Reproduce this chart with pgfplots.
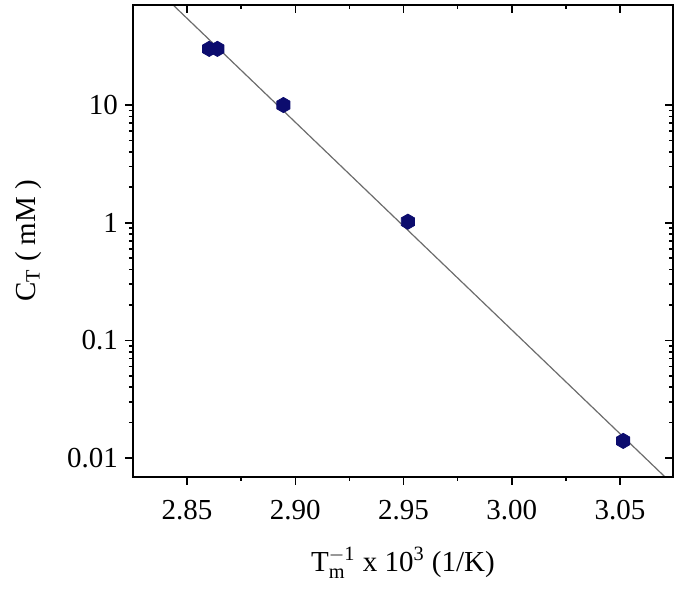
\documentclass[border=0pt]{standalone}
\usepackage{pgfplots}
\pgfplotsset{compat=1.18}
\usepackage{fontspec}
\setmainfont{Liberation Serif}
\definecolor{navy}{RGB}{12,12,110}

% hexagon with a vertex on top
\pgfdeclareplotmark{hexagon}{%
  \pgfpathmoveto{\pgfqpointpolar{90}{\pgfplotmarksize}}%
  \pgfpathlineto{\pgfqpointpolar{150}{\pgfplotmarksize}}%
  \pgfpathlineto{\pgfqpointpolar{210}{\pgfplotmarksize}}%
  \pgfpathlineto{\pgfqpointpolar{270}{\pgfplotmarksize}}%
  \pgfpathlineto{\pgfqpointpolar{330}{\pgfplotmarksize}}%
  \pgfpathlineto{\pgfqpointpolar{30}{\pgfplotmarksize}}%
  \pgfpathclose\pgfusepathqfillstroke}

\pgfplotsset{
  common/.style={
    scale only axis, width=270pt, height=235.9pt,
    xmin=2.825, xmax=3.0745, ymin=0.00694, ymax=70.8,
    xtick={2.85,2.90,2.95,3.00,3.05},
    minor x tick num=1,
    ytick={0.01,0.1,1,10},
    axis line style={line width=1pt},
    major tick style={line width=0.8pt, black},
    minor tick style={line width=0.8pt, black},
    major tick length=4pt, minor tick length=2pt,
    font=\fontsize{14.5}{17}\selectfont,
  }
}

\begin{document}
\begin{tikzpicture}
\begin{axis}[ymode=log, common, name=ax,
    tick align=outside, xtick pos=bottom, ytick pos=left,
    /pgf/number format/assume math mode=true,
    xticklabel={\pgfmathprintnumber[fixed,fixed zerofill,precision=2]{\tick}},
    xticklabel style={yshift=-4pt},
    yticklabels={0.01,0.1,1,10},
    xlabel={T$_{\mathrm{m}}^{\mathrm{-1}}$ x 10$^{\mathrm{3}}$ (1/K)},
    ylabel={C$_{\mathrm{T}}$ ( mM )},
    xlabel style={yshift=-7pt},
    ylabel style={yshift=6pt},
]
\addplot[gray!85!black, line width=0.6pt] coordinates {(2.840,81.7) (3.074,0.00608)};
\addplot[only marks, mark=hexagon, mark size=3.8pt, draw=navy, fill=navy]
  coordinates {(2.8602,30) (2.8640,30) (2.8945,10) (2.9520,1.02) (3.0515,0.014)};
\end{axis}
\begin{axis}[ymode=log, common,
    tick align=inside, xtick pos=top, ytick pos=right,
    xticklabels={}, yticklabels={}]
\end{axis}
\pgfresetboundingbox
\path ([xshift=-66.5pt,yshift=-62.2pt]ax.south west) rectangle ([xshift=5pt,yshift=2.5pt]ax.north east);
\end{tikzpicture}
\end{document}
